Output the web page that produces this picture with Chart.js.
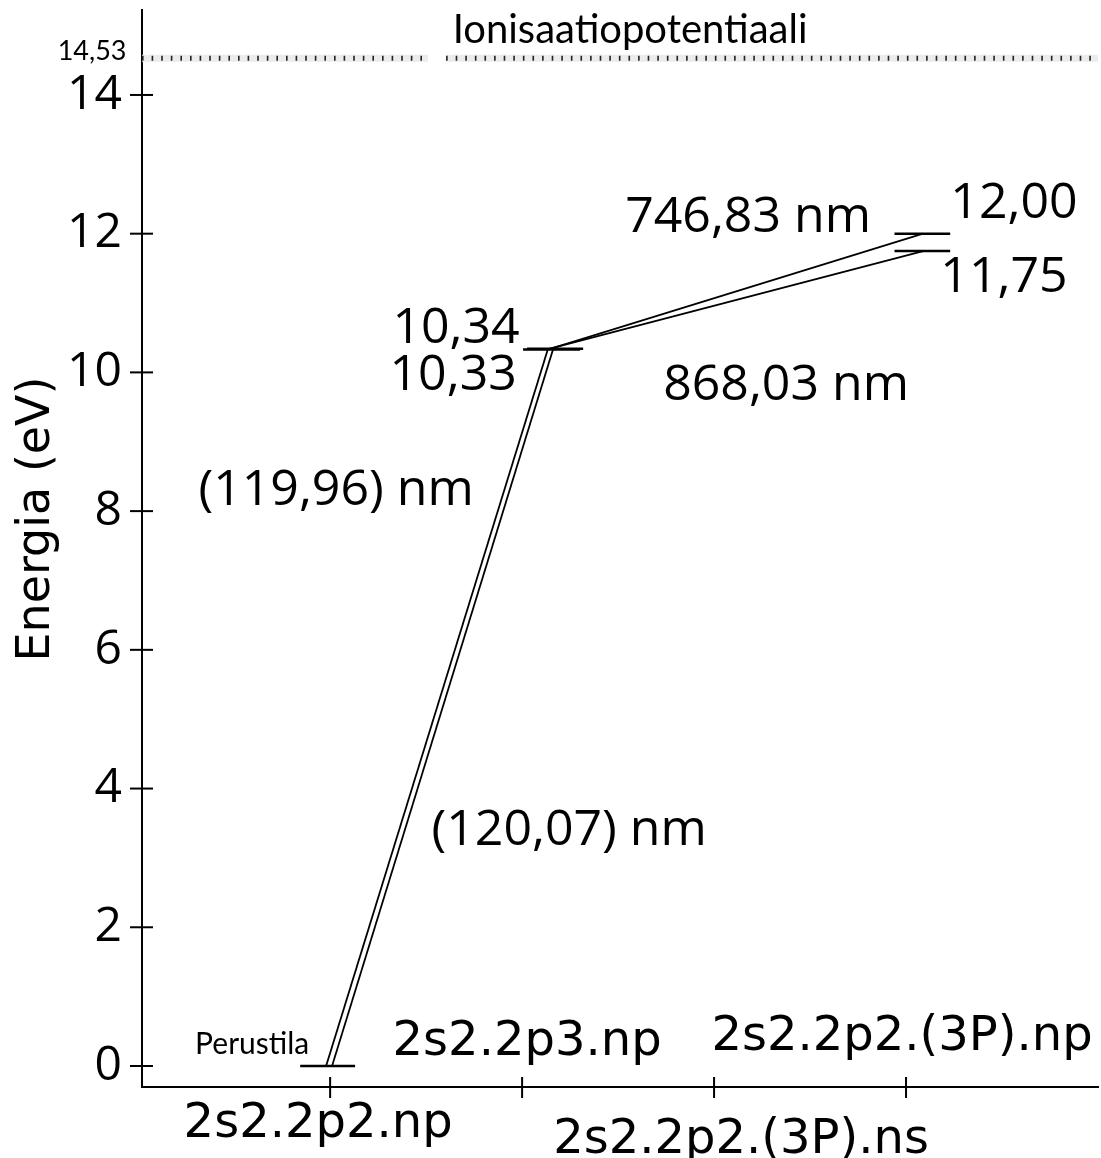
<!DOCTYPE html>
<html>
<head>
<meta charset="utf-8">
<script src="https://cdn.jsdelivr.net/npm/chart.js@4/dist/chart.umd.min.js"></script>
<style>
  body { margin: 0; background: #fff; }
  #wrap { width: 1101px; height: 1158px; }
</style>
</head>
<body>
<div id="wrap"><canvas id="myChart" width="1101" height="1158"></canvas></div>
<script>
// elektronikonfiguraatiot x-akselilla
const xTickLabels = ['2s2.2p2.np', '2s2.2p3.np', '2s2.2p2.(3P).ns', '2s2.2p2.(3P).np'];
const yTicks = [0, 2, 4, 6, 8, 10, 12, 14];

// energiatasot (eV) ja niiden vaakaviivojen x-välit
const ionisation = 14.53;
const levelEnergies = [0, 10.34, 10.33, 12.00, 11.75];
const levelSpans = [[-0.156, 0.130], [1.026, 1.318], [1.005, 1.302], [2.94, 3.23], [2.94, 3.23]];

// siirtymät: mistä tasosta mihin, aallonpituus
const transitions = [[0, 1], [0, 2], [1, 3], [2, 4]];
const wavelengths = ['(119,96) nm', '(120,07) nm', '746,83 nm', '868,03 nm'];
const transitionX = [[-0.021, 1.135], [0.010, 1.161], [1.146, 3.089], [1.125, 3.089]];

const fmt = v => v.toFixed(2).replace('.', ',');

const bigFont = '50px "Open Sans"';

// tekstit kuvaajan sisällä
const notes = [
  { text: 'Ionisaatiopotentiaali', x: 1.5625, y: 14.749, font: '40px Lato' },
  { text: fmt(ionisation), x: -1.24, y: 14.504, font: '27px Lato' },
  { text: 'Perustila', x: -0.406, y: 0.173, font: '30px Lato' },
  { text: fmt(levelEnergies[1]), x: 0.656, y: 10.424, font: bigFont },
  { text: fmt(levelEnergies[2]), x: 0.641, y: 9.746, font: bigFont },
  { text: fmt(levelEnergies[3]), x: 3.5625, y: 12.226, font: bigFont },
  { text: fmt(levelEnergies[4]), x: 3.51, y: 11.159, font: bigFont },
  { text: wavelengths[0], x: 0.031, y: 8.088, font: bigFont },
  { text: wavelengths[1], x: 1.245, y: 3.186, font: bigFont },
  { text: wavelengths[2], x: 2.177, y: 12.024, font: bigFont },
  { text: wavelengths[3], x: 2.375, y: 9.602, font: bigFont }
];

// x-akselin nimien paikat: vuorotellen akselin ylä- ja alapuolella
const xLabelShift = [[-12, 50], [5, -32], [27, 66], [-4, -37]];

const datasets = [];

// ionisaatiopotentiaalin katkoviiva (tekstin kohdalla aukko)
const ionLine = [
  { x: -0.98, y: ionisation }, { x: 0.51, y: ionisation },
  { x: 0.55, y: null },
  { x: 0.604, y: ionisation }, { x: 4, y: ionisation }
];
datasets.push({ data: ionLine, borderColor: '#222', borderWidth: 5, borderDash: [1.6, 8], spanGaps: false, order: 0 });
datasets.push({ data: ionLine, borderColor: '#ececec', borderWidth: 7, spanGaps: false, order: 1 });

levelEnergies.forEach((e, i) => {
  datasets.push({
    data: [{ x: levelSpans[i][0], y: e }, { x: levelSpans[i][1], y: e }],
    borderColor: '#000', borderWidth: 2.5
  });
});

transitions.forEach((t, i) => {
  datasets.push({
    data: [
      { x: transitionX[i][0], y: levelEnergies[t[0]] },
      { x: transitionX[i][1], y: levelEnergies[t[1]] }
    ],
    borderColor: '#000', borderWidth: 1.8
  });
});

const drawExtras = {
  id: 'drawExtras',
  afterDraw(chart) {
    const { ctx, scales: { x, y }, chartArea } = chart;
    ctx.save();
    ctx.strokeStyle = '#000';
    ctx.lineWidth = 2;

    // akselien jakoviivat molemmin puolin akselia
    yTicks.forEach(v => {
      const py = y.getPixelForValue(v);
      ctx.beginPath();
      ctx.moveTo(chartArea.left - 12, py);
      ctx.lineTo(chartArea.left + 11, py);
      ctx.stroke();
    });
    xTickLabels.forEach((lab, i) => {
      const px = x.getPixelForValue(i);
      ctx.beginPath();
      ctx.moveTo(px, chartArea.bottom - 10);
      ctx.lineTo(px, chartArea.bottom + 11);
      ctx.stroke();
    });

    ctx.fillStyle = '#000';
    ctx.textAlign = 'center';
    ctx.textBaseline = 'alphabetic';

    // x-akselin nimet
    ctx.font = '48px "DejaVu Sans"';
    xTickLabels.forEach((lab, i) => {
      const px = x.getPixelForValue(i) + xLabelShift[i][0];
      ctx.fillText(lab, px, chartArea.bottom + xLabelShift[i][1]);
    });

    // tekstit
    notes.forEach(n => {
      ctx.font = n.font;
      ctx.fillText(n.text, x.getPixelForValue(n.x), y.getPixelForValue(n.y));
    });

    // y-akselin otsikko
    ctx.font = '46px "DejaVu Sans"';
    ctx.translate(49, 519);
    ctx.rotate(-Math.PI / 2);
    ctx.fillText('Energia (eV)', 0, 0);
    ctx.restore();
  }
};

const ctx = document.getElementById('myChart').getContext('2d');

new Chart(ctx, {
  type: 'line',
  data: { datasets },
  options: {
    responsive: false,
    animation: false,
    layout: { padding: { top: 10, right: 3, left: 0, bottom: 0 } },
    elements: { point: { radius: 0 }, line: { tension: 0 } },
    plugins: { legend: { display: false }, tooltip: { enabled: false } },
    scales: {
      x: {
        type: 'linear',
        min: -0.98,
        max: 4,
        grid: { display: false },
        border: { display: true, color: '#000', width: 2 },
        ticks: { display: false },
        afterFit: s => { s.height = 71; s.paddingLeft = 0; s.paddingRight = 0; }
      },
      y: {
        type: 'linear',
        min: -0.303,
        max: 15.225,
        grid: { display: false },
        border: { display: true, color: '#000', width: 2 },
        afterBuildTicks: s => { s.ticks = yTicks.map(v => ({ value: v })); },
        ticks: {
          color: '#000',
          padding: 12,
          font: { family: 'Open Sans', size: 48 },
          callback: v => v
        },
        afterFit: s => { s.width = 142; s.paddingTop = 0; s.paddingBottom = 0; }
      }
    }
  },
  plugins: [drawExtras]
});
</script>
</body>
</html>
